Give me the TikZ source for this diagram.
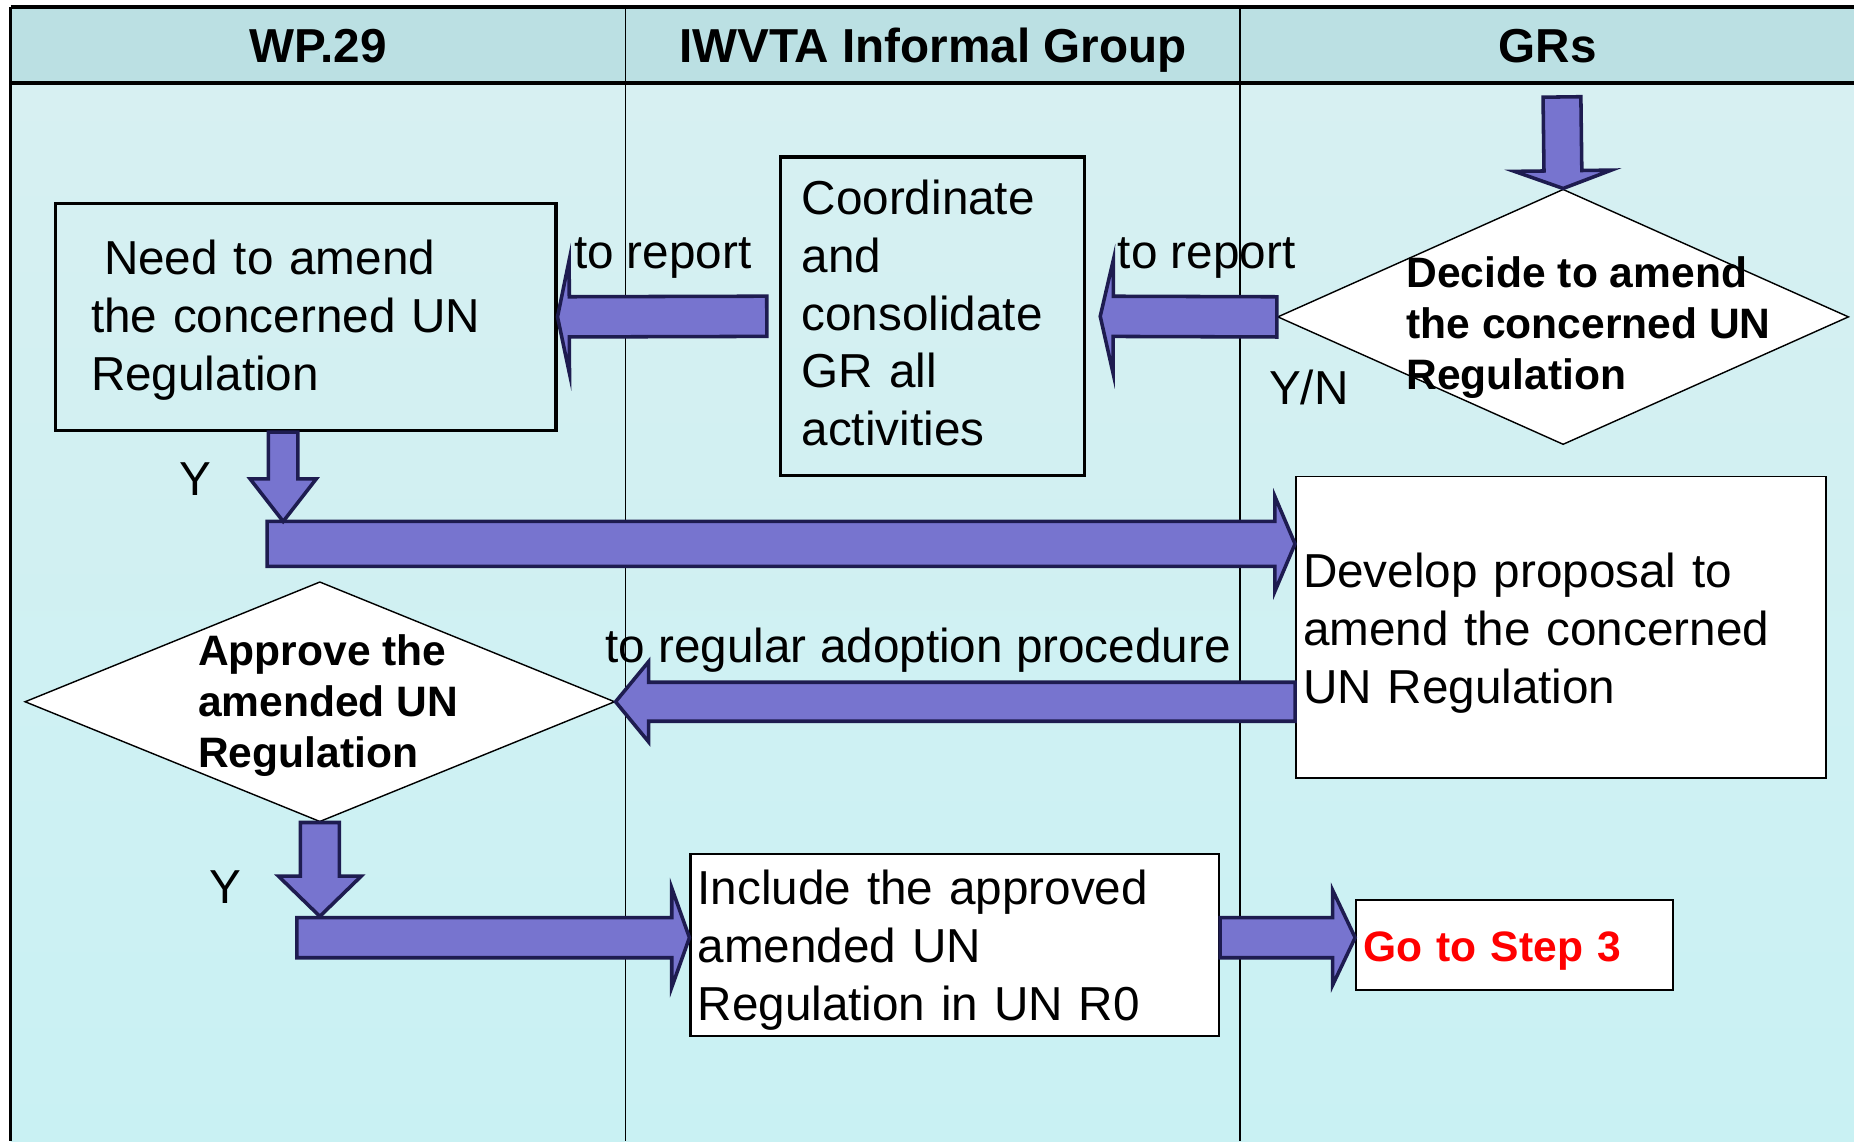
\documentclass[tikz,border=0pt]{standalone}
\usepackage{fontspec}
\setmainfont{Liberation Sans}
\usetikzlibrary{shapes.geometric,calc}
\definecolor{lanehead}{HTML}{BBE0E3}
\definecolor{lanetop}{HTML}{D7F0F2}
\definecolor{lanebot}{HTML}{C9F1F3}
\definecolor{arrowfill}{HTML}{7774CF}
\definecolor{arrowline}{HTML}{1E1C50}
\newcommand{\boxfont}{\fontsize{40.3}{49}\selectfont}
\newcommand{\tagfont}{\bfseries\fontsize{36}{43}\selectfont}

\begin{document}
\begin{tikzpicture}[x=1pt,y=-1pt,
    stepbox/.style={draw, rectangle, align=left, font=\boxfont, inner ysep=0pt},
    decision/.style={draw, diamond, fill=white, line width=1.2pt, inner sep=0pt},
    tag/.style={font=\tagfont, align=left, anchor=west},
    blockarrow/.style n args={3}{fill=arrowfill, draw=arrowline, line width=3pt,
      to path={
        ($(\tikztotarget)!#3!(\tikztostart)$) coordinate (bk)
        ($(\tikztostart)!#1!90:(\tikztotarget)$) -- ($(bk)!#1!-90:(\tikztostart)$)
        -- ($(bk)!#2!-90:(\tikztostart)$) -- (\tikztotarget)
        -- ($(bk)!#2!90:(\tikztostart)$) -- ($(bk)!#1!90:(\tikztostart)$)
        -- ($(\tikztostart)!#1!-90:(\tikztotarget)$) -- cycle}}]
    \useasboundingbox (0,0) rectangle (1568,965);
    \fill [lanehead] (9,6) rectangle (1568,70);
    \shade [top color=lanetop, bottom color=lanebot] (9,70) rectangle (1568,965);
    \draw [line width=2pt] (9,6) -- (9,965);
    \foreach \x in {529,1049}
      \draw [line width=1.5pt] (\x,6) -- (\x,965);
    \draw [line width=3pt] (9,6) -- (1568,6);
    \draw [line width=3pt] (9,70) -- (1568,70);
    \foreach \x/\t in {269/WP.29,789/IWVTA Informal Group,1309/GRs}
      \node [font=\bfseries\fontsize{40.3}{49}\selectfont, text height=29pt, text depth=0pt] (head\x) at (\x,38) {\t};

    \node [stepbox, line width=3pt, text width=363pt, inner xsep=30pt, minimum height=192pt] (need) at (258.5,268)
      {\rule{0pt}{35pt}\hspace*{11pt}Need to amend\\the concerned UN\\Regulation};
    \node [stepbox, line width=3pt, text width=221pt, inner xsep=18pt, minimum height=269pt] (coord) at (788.5,267.5)
      {Coordinate\\and\\consolidate\\GR all\\activities\rule[-6pt]{0pt}{0pt}};
    \node [decision, minimum width=483pt, minimum height=216pt] (decide) at (1322,268) {};
    \node [tag] (decidetext) at (1186,277) {Decide to amend\\the concerned UN\\Regulation};
    \node [stepbox, fill=white, line width=1.5pt, text width=436pt, inner xsep=6pt, minimum height=255pt] (develop) at (1320,530.5)
      {\rule{0pt}{39pt}Develop proposal to\\amend the concerned\\UN Regulation};
    \node [decision, minimum width=499pt, minimum height=203pt] (approve) at (270.5,593.5) {};
    \node [tag] (approvetext) at (164,596.5) {Approve the\\amended UN\\Regulation};
    \node [stepbox, fill=white, line width=1.8pt, text width=435pt, inner xsep=6pt, minimum height=154pt] (include) at (807.5,799)
      {\rule{0pt}{38pt}Include the approved\\amended UN\\Regulation in UN R0};
    \node [stepbox, fill=white, line width=1.8pt, text width=256pt, inner xsep=6pt, minimum height=76pt, font=\tagfont, text=red] (gostep) at (1281,799)
      {\rule{0pt}{36pt}Go to Step 3};

    \node [font=\boxfont] (report1) at (560.5,218) {to report};
    \node [font=\boxfont] (report2) at (1020.5,218) {to report};
    \node [font=\boxfont] (adopt) at (776.5,550) {to regular adoption procedure};
    \node [font=\boxfont] (yes1) at (165,405) {Y};
    \node [font=\boxfont] (yesno) at (1107,328) {Y/N};
    \node [font=\boxfont] (yes2) at (191,750) {Y};

    \coordinate (grin) at (1321,82);
    \coordinate (coordin) at ($(coord.east)+(12,0)$);
    \coordinate (coordout) at ($(coord.west)+(-10,0)$);
    \coordinate (bigstart) at (226,460);
    \coordinate (bigtip) at (develop.west |- bigstart);
    \coordinate (needtip) at (239.5,441);
    \coordinate (needout) at (needtip |- need.south);
    \coordinate (devout) at (develop.west |- approve.east);
    \coordinate (lowstart) at (251,793);
    \coordinate (lowtip) at (270.5,775);
    \coordinate (incin) at (include.west |- lowstart);
    \coordinate (incout) at (include.east |- lowstart);
    \coordinate (goin) at (gostep.west |- lowstart);

    \draw [blockarrow={16pt}{41pt}{15pt}] (grin) to (decide.north);
    \draw [blockarrow={17pt}{48pt}{11pt}] (decide.west) to (coordin);
    \draw [blockarrow={17pt}{48pt}{10pt}] (coordout) to (need.east);
    \draw [blockarrow={19pt}{40pt}{17pt}] (bigstart) to (bigtip);
    \draw [blockarrow={12.5pt}{28pt}{36pt}] (needout) to (needtip);
    \draw [blockarrow={16.5pt}{34pt}{28pt}] (devout) to (approve.east);
    \draw [blockarrow={17pt}{42pt}{15pt}] (lowstart) to (incin);
    \draw [blockarrow={16.5pt}{35pt}{34pt}] (approve.south) to (lowtip);
    \draw [blockarrow={17pt}{40pt}{19pt}] (incout) to (goin);
\end{tikzpicture}
\end{document}
